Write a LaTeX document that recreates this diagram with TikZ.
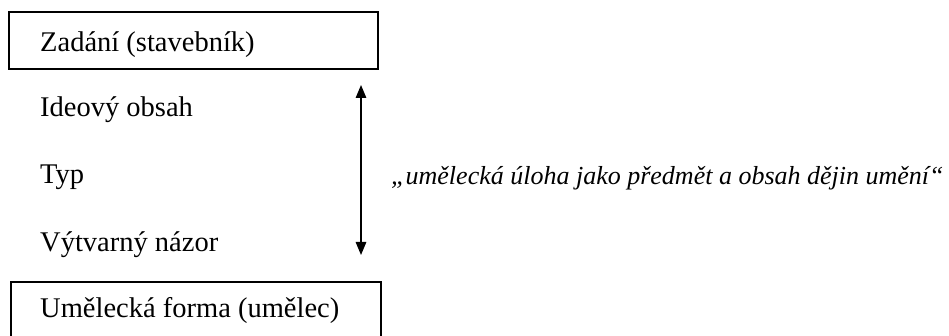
\documentclass[tikz,border=0pt]{standalone}
\usepackage{fontspec}
\setmainfont{Liberation Serif}
\usetikzlibrary{arrows.meta}
\begin{document}
\begin{tikzpicture}[x=1pt,y=1pt,
  framebox/.style={draw=black, line width=1.6pt, rectangle, inner sep=0pt, anchor=north west},
  lbl/.style={inner sep=0pt, anchor=base west, font=\fontsize{28.5}{30}\selectfont},
  quote/.style={inner sep=0pt, anchor=base west, font=\fontsize{26}{28}\selectfont\itshape},
  dblarrow/.style={line width=1.4pt, {Triangle[length=13pt,width=10.5pt]}-{Triangle[length=13pt,width=10.5pt]}}]
\useasboundingbox (0,0) rectangle (949,336);
\clip (0,0) rectangle (949,336);
\fill[white] (0,0) rectangle (949,336);
\node[framebox, minimum width=369pt, minimum height=57pt] (zadbox) at (8,325) {};
\node[lbl] (zad) at (40,284) {Zadání (stavebník)};
\node[lbl] (ideo) at (40,219) {Ideový obsah};
\node[lbl] (typ) at (40,152) {Typ};
\node[lbl] (vyt) at (40,84) {Výtvarný názor};
\node[framebox, minimum width=370pt, minimum height=80pt] (umbox) at (10,55) {};
\node[lbl] (um) at (40,18) {Umělecká forma (umělec)};
\node[quote] (q) at (391,151) {„umělecká úloha jako předmět a obsah dějin umění“};
\coordinate (atop) at (361,251);
\coordinate (abot) at (361,81);
\draw[dblarrow] (atop) -- (abot);
\end{tikzpicture}
\end{document}
